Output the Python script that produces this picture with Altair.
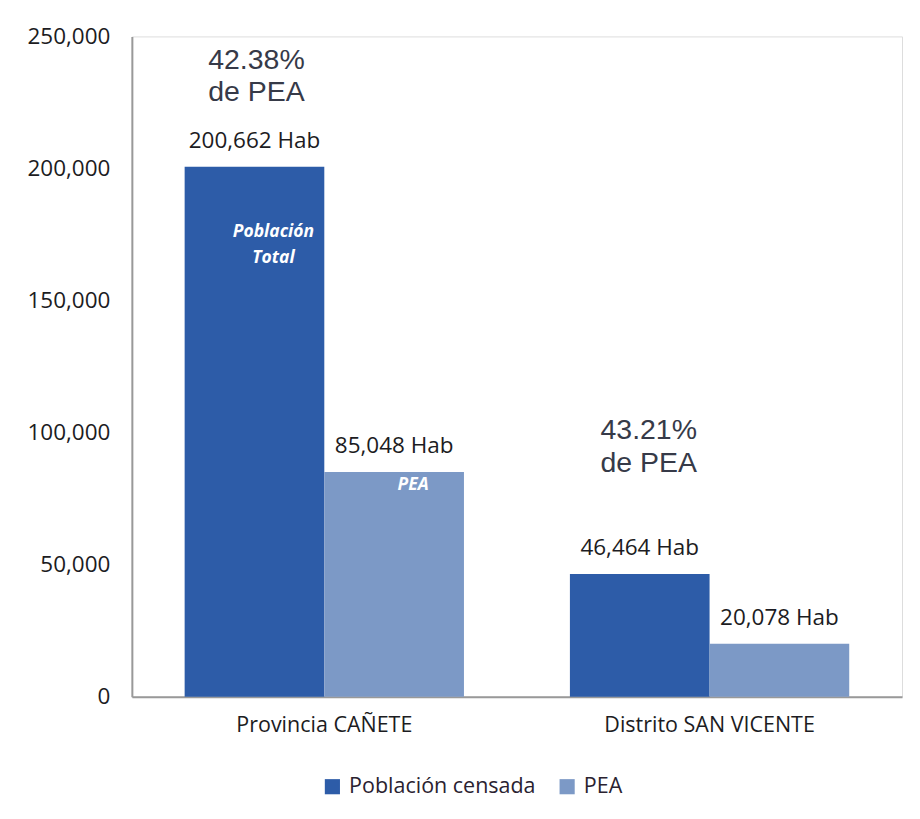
import altair as alt
import pandas as pd

groups = ["Provincia CAÑETE", "Distrito SAN VICENTE"]
series = ["Población censada", "PEA"]
poblacion = [200662, 46464]
pea = [85048, 20078]
value_labels = [["200,662 Hab", "85,048 Hab"], ["46,464 Hab", "20,078 Hab"]]
pct_labels = ["42.38%", "43.21%"]
pct_y = [240900, 101000]
pct_y2 = [228800, 88500]
inner_texts = ["Población", "Total", "PEA"]
inner_groups = [groups[0], groups[0], groups[0]]
inner_series = [series[0], series[0], series[1]]
inner_y = [175900, 166000, 80200]

colors = ["#2D5CA8", "#7C99C6"]

rows = []
for gi, g in enumerate(groups):
    for si, (s, vals) in enumerate(zip(series, [poblacion, pea])):
        rows.append({"grupo": g, "serie": s, "valor": vals[gi], "etiqueta": value_labels[gi][si]})
df = pd.DataFrame(rows)

pct_rows = []
for gi, g in enumerate(groups):
    pct_rows.append({"grupo": g, "serie": series[0], "y": pct_y[gi], "t": pct_labels[gi]})
    pct_rows.append({"grupo": g, "serie": series[0], "y": pct_y2[gi], "t": "de PEA"})
pct_df = pd.DataFrame(pct_rows)

inner_df = pd.DataFrame({"grupo": inner_groups, "serie": inner_series, "y": inner_y, "t": inner_texts})

FONT = "Open Sans"
TXT = "#1c1c22"

x_enc = alt.X("grupo:N", sort=groups,
              scale=alt.Scale(paddingInner=0.275, paddingOuter=0.137),
              axis=alt.Axis(title=None, labelAngle=0, ticks=False, labelFont=FONT,
                            labelFontSize=21.5, labelColor=TXT, labelPadding=18, labelLimit=0,
                            domainColor="#999999", domainWidth=2))
xoff = alt.XOffset("serie:N", sort=series)
y_scale = alt.Scale(domain=[0, 250000])

bars = alt.Chart(df).mark_bar().encode(
    x=x_enc,
    xOffset=xoff,
    y=alt.Y("valor:Q", scale=y_scale,
            axis=alt.Axis(title=None, values=[0, 50000, 100000, 150000, 200000, 250000],
                          format=",d", grid=False, ticks=False, labelFont=FONT,
                          labelFontSize=22.5, labelColor=TXT, labelPadding=22,
                          domainColor="#999999", domainWidth=2)),
    color=alt.Color("serie:N", sort=series, scale=alt.Scale(domain=series, range=colors),
                    legend=alt.Legend(title=None, orient="none", direction="horizontal",
                                      legendX=190, legendY=740, symbolType="square",
                                      symbolSize=230, symbolOpacity=1, labelFont=FONT,
                                      labelFontSize=21.5, labelColor="#2a2230", labelLimit=0,
                                      columnPadding=20, labelOffset=6)),
)

labels = alt.Chart(df).mark_text(font=FONT, fontSize=22.5, color=TXT,
                                 baseline="bottom", dy=-14).encode(
    x=alt.X("grupo:N", sort=groups), xOffset=xoff,
    y=alt.Y("valor:Q", scale=y_scale), text="etiqueta:N")

def pct_layer(group, dx):
    return alt.Chart(pct_df).transform_filter(alt.datum.grupo == group).mark_text(
        font="Liberation Sans", fontSize=28.5, color="#363a48", baseline="middle", dx=dx
    ).encode(
        x=alt.X("grupo:N", sort=groups), xOffset=alt.XOffset("serie:N", sort=series),
        y=alt.Y("y:Q", scale=y_scale), text="t:N")

pct1 = pct_layer(groups[0], 2)
pct2 = pct_layer(groups[1], 9)

inner = alt.Chart(inner_df).mark_text(font=FONT, fontSize=17.5, color="white", fontStyle="italic",
                                      fontWeight="bold", baseline="middle", dx=19).encode(
    x=alt.X("grupo:N", sort=groups), xOffset=alt.XOffset("serie:N", sort=series),
    y=alt.Y("y:Q", scale=y_scale), text="t:N")

chart = alt.layer(bars, labels, pct1, pct2, inner).properties(
    width=771, height=661,
    autosize=alt.AutoSizeParams(type="none"),
    padding={"left": 124, "top": 28, "right": 10, "bottom": 110},
).configure_view(stroke=None).configure(background="white")

chart.save("out.html", embed_options={"renderer": "svg", "actions": False})
